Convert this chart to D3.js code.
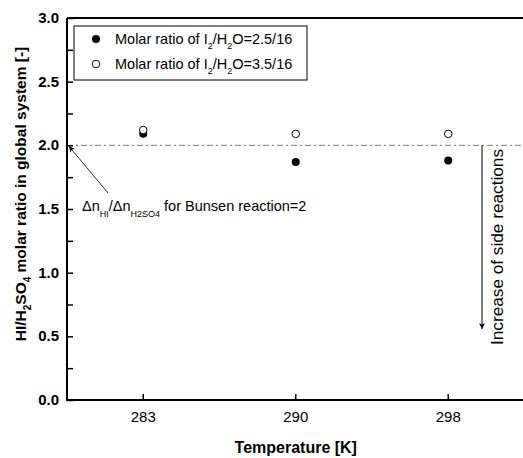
<!DOCTYPE html>
<html>
<head>
<meta charset="utf-8">
<script src="https://cdn.jsdelivr.net/npm/d3@7"></script>
<style>
body{margin:0;background:#fff;}
text, tspan{font-family:"Liberation Sans",Arial,sans-serif;fill:#000;}
</style>
</head>
<body>
<div id="chart"></div>
<script>
// data
var temps = ["283", "290", "298"];
var ratio25 = [2.09, 1.87, 1.88];   // I2/H2O = 2.5/16 (filled)
var ratio35 = [2.12, 2.09, 2.09];   // I2/H2O = 3.5/16 (open)
var yTicks = [0, 0.5, 1.0, 1.5, 2.0, 2.5, 3.0];
var bunsen = 2;

var w = 523, h = 458;
var m = {left: 67, top: 18, bottom: 400};

var svg = d3.select('#chart').append('svg').attr("width", w).attr("height", h);

var x = d3.scaleBand().domain(temps).range([m.left, m.left + 3 * 152.5]);
var y = d3.scaleLinear().domain([0, 3]).range([m.bottom, m.top]);

// arrow head
var defs = svg.append('defs');
defs.append('marker')
	.attr("id", "arr")
	.attr('viewBox', '0 -5 10 10')
	.attr("refX", 10)
	.attr("refY", 0)
	.attr('markerWidth', 8)
	.attr('markerHeight', 6)
	.attr('markerUnits', 'userSpaceOnUse')
	.attr('orient', 'auto')
	.append('path')
		.attr("d", "M0,-5 L10,0 L0,5 L3,0 Z")
		.attr("fill", "#000");

// reference line at 2.0
svg.append('line')
	.attr("x1", m.left).attr("x2", w)
	.attr("y1", y(bunsen)).attr("y2", y(bunsen))
	.attr("stroke", "#777").attr("stroke-width", 1)
	.attr("stroke-dasharray", "6,3,2,3");

// y axis (ticks inward)
var yAxis = d3.axisLeft(y).tickValues(d3.range(0, 3.01, 0.25)).tickSize(-6).tickFormat("");
svg.append('g').attr("transform", "translate(" + m.left + ",0)").call(yAxis)
	.call(function(g){ g.select(".domain").remove(); g.selectAll("line").attr("stroke-width", 1.5); });
svg.selectAll(".ylab").data(yTicks).enter().append('text')
	.attr("x", m.left - 8).attr("y", function(d){ return y(d) + 5; })
	.attr("text-anchor", "end").attr("font-size", 15).attr("font-weight", "bold")
	.text(function(d){ return d.toFixed(1); });

// x axis
var xAxis = d3.axisBottom(x).tickSize(-6).tickPadding(9);
var gx = svg.append('g').attr("transform", "translate(0," + m.bottom + ")").call(xAxis);
gx.select(".domain").remove();
gx.selectAll("line").attr("stroke-width", 1.5);
gx.selectAll("text").attr("font-size", 15).attr("dy", "0.85em")
	.style("font-family", "'Liberation Sans',Arial,sans-serif");

// frame
svg.append('path')
	.attr("d", "M" + m.left + "," + m.top + "V" + m.bottom + "H" + w + " M" + m.left + "," + m.top + "H" + w)
	.attr("fill", "none").attr("stroke", "#000").attr("stroke-width", 2);

// points
var cx = function(d, i){ return x(temps[i]) + x.bandwidth() / 2; };
svg.selectAll(".p25").data(ratio25).enter().append('circle')
	.attr("cx", cx).attr("cy", function(d){ return y(d); }).attr("r", 4)
	.attr("fill", "#000");
svg.selectAll(".p35").data(ratio35).enter().append('circle')
	.attr("cx", cx).attr("cy", function(d){ return y(d); }).attr("r", 3.8)
	.attr("fill", "#fff").attr("stroke", "#000").attr("stroke-width", 1);

// legend
svg.append('rect').attr("x", 74).attr("y", 26).attr("width", 233).attr("height", 54)
	.attr("fill", "none").attr("stroke", "#000").attr("stroke-width", 1);
svg.append('circle').attr("cx", 96).attr("cy", 39).attr("r", 4).attr("fill", "#000");
svg.append('circle').attr("cx", 96).attr("cy", 64).attr("r", 3.8).attr("fill", "#fff").attr("stroke", "#000");
function legendText(yy, val){
	var t = svg.append('text').attr("x", 115).attr("y", yy).attr("font-size", 14.5);
	t.append('tspan').text("Molar ratio of I");
	t.append('tspan').attr("dy", 5).attr("font-size", 9).text("2");
	t.append('tspan').attr("dy", -5).text("/H");
	t.append('tspan').attr("dy", 5).attr("font-size", 9).text("2");
	t.append('tspan').attr("dy", -5).text("O=" + val);
}
legendText(44, "2.5/16");
legendText(69, "3.5/16");

// bunsen annotation
svg.append('line').attr("x1", 108).attr("y1", 193).attr("x2", m.left + 2).attr("y2", y(bunsen) + 1)
	.attr("stroke", "#000").attr("stroke-width", 0.8).attr("marker-end", "url(#arr)");
var an = svg.append('text').attr("x", 82).attr("y", 211).attr("font-size", 14.5);
an.append('tspan').text("Δn");
an.append('tspan').attr("dy", 6).attr("font-size", 9).text("HI");
an.append('tspan').attr("dy", -6).text("/Δn");
an.append('tspan').attr("dy", 6).attr("font-size", 9).text("H2SO4");
an.append('tspan').attr("dy", -6).text(" for Bunsen reaction=2");

// side reactions arrow
svg.append('line').attr("x1", 482).attr("x2", 482).attr("y1", y(bunsen)).attr("y2", 329)
	.attr("stroke", "#000").attr("stroke-width", 1).attr("marker-end", "url(#arr)");
svg.append('text').attr("transform", "translate(503,345) rotate(-90)").attr("font-size", 17)
	.attr("textLength", 196).attr("lengthAdjust", "spacingAndGlyphs")
	.text("Increase of side reactions");

// axis titles
svg.append('text').attr("x", x("290") + x.bandwidth() / 2).attr("y", 453)
	.attr("text-anchor", "middle").attr("font-size", 16).attr("font-weight", "bold")
	.text("Temperature [K]");
var yt = svg.append('text').attr("transform", "translate(26,194) rotate(-90)")
	.attr("text-anchor", "middle").attr("font-size", 15.5).attr("font-weight", "bold");
yt.append('tspan').text("HI/H");
yt.append('tspan').attr("dy", 5).attr("font-size", 10).text("2");
yt.append('tspan').attr("dy", -5).text("SO");
yt.append('tspan').attr("dy", 5).attr("font-size", 10).text("4");
yt.append('tspan').attr("dy", -5).text(" molar ratio in global system [-]");
</script>
</body>
</html>
